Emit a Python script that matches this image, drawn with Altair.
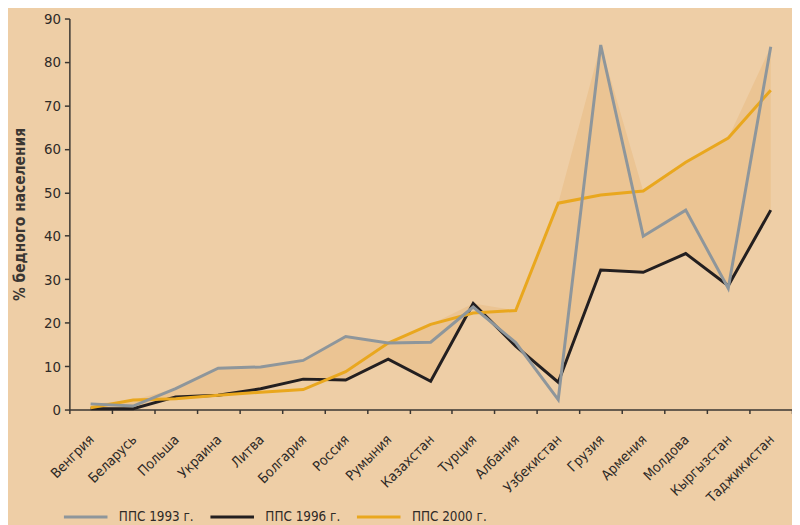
import altair as alt
import pandas as pd

countries = ["Венгрия", "Беларусь", "Польша", "Украина", "Литва", "Болгария",
             "Россия", "Румыния", "Казахстан", "Турция", "Албания", "Узбекистан",
             "Грузия", "Армения", "Молдова", "Кыргызстан", "Таджикистан"]
pps_1993 = [1.3, 0.8, 4.8, 9.5, 9.8, 11.3, 16.8, 15.3, 15.5, 23.6, 15.4, 2.3,
            83.9, 39.9, 45.9, 27.9, 83.5]
pps_1996 = [0.2, 0.2, 2.9, 3.3, 4.8, 7.0, 6.8, 11.6, 6.5, 24.4, 14.6, 6.3,
            32.1, 31.6, 35.9, 28.5, 45.9]
pps_2000 = [0.4, 2.2, 2.5, 3.3, 4.0, 4.6, 8.7, 15.3, 19.6, 22.2, 22.8, 47.5,
            49.4, 50.3, 56.9, 62.5, 73.5]
series_names = ["ППС 1993 г.", "ППС 1996 г.", "ППС 2000 г."]
series_colors = ["#8E969B", "#231F20", "#E9A71E"]
y_ticks = [0, 10, 20, 30, 40, 50, 60, 70, 80, 90]

FONT = "DejaVu Sans Condensed, Liberation Sans Narrow, sans-serif"
BG = "#EECEA6"
FILL = "#EBC493"
AXIS_COLOR = "#3A3632"

wide = pd.DataFrame({
    "idx": list(range(len(countries))),
    "a": pps_1993, "b": pps_1996, "c": pps_2000,
})

# drawing order: 1996 first, then 2000, then 1993 on top
draw_order = [1, 2, 0]
values = [pps_1993, pps_1996, pps_2000]
rows = []
for s in draw_order:
    for i in range(len(countries)):
        rows.append({"idx": i, "series": series_names[s], "value": values[s][i]})
long = pd.DataFrame(rows)

label_expr = "[" + ",".join("'" + c + "'" for c in countries) + "][datum.value]"

x_enc = alt.X(
    "idx:O",
    bandPosition=0.5,
    scale=alt.Scale(type="band", paddingInner=0, paddingOuter=0),
    axis=alt.Axis(
        title=None, tickBand="extent", labelAngle=-45, labelExpr=label_expr,
        labelFont=FONT, labelFontSize=14, labelColor="#2E2A27",
        tickSize=4, tickColor=AXIS_COLOR, domainColor=AXIS_COLOR,
        domainWidth=1.5, tickWidth=1.5, labelPadding=19, labelOffset=-4,
    ),
)
y_scale = alt.Scale(domain=[0, 90], nice=False)
y_axis = alt.Axis(
    values=y_ticks, title="% бедного населения", titleFont=FONT,
    titleFontSize=15.5, titleFontWeight="bold", titleColor="#3A3632",
    titlePadding=16, labelFont=FONT, labelFontSize=15, labelColor="#2E2A27",
    tickSize=5, tickColor=AXIS_COLOR, domainColor=AXIS_COLOR,
    domainWidth=1.5, tickWidth=1.5, labelPadding=4, grid=False,
)

area = alt.Chart(wide).transform_calculate(
    top="max(datum.a, datum.b, datum.c)"
).mark_area(color=FILL, opacity=1).encode(
    x=x_enc,
    y=alt.Y("top:Q", scale=y_scale, axis=y_axis, stack=None),
    y2=alt.Y2("b:Q"),
)

lines = alt.Chart(long).mark_line(strokeWidth=3).encode(
    x=x_enc,
    y=alt.Y("value:Q", scale=y_scale, axis=y_axis),
    color=alt.Color(
        "series:N",
        scale=alt.Scale(domain=series_names, range=series_colors),
        legend=alt.Legend(
            title=None, orient="none", direction="horizontal",
            legendX=-7, legendY=480, symbolType="stroke",
            symbolSize=1936, symbolStrokeWidth=3, labelFont=FONT,
            labelFontSize=13.5, labelColor="#2E2A27", labelOffset=10,
            columnPadding=10, padding=0,
        ),
    ),
    order=alt.Order("idx:Q"),
)

chart = alt.layer(area, lines).properties(
    width=730, height=395,
    autosize=alt.AutoSizeParams(type="none"),
    padding={"left": 62, "top": 8, "right": 0, "bottom": 114},
    background=BG,
).configure_view(stroke=None)

chart.save("out.html", embed_options={"renderer": "svg", "actions": False})
